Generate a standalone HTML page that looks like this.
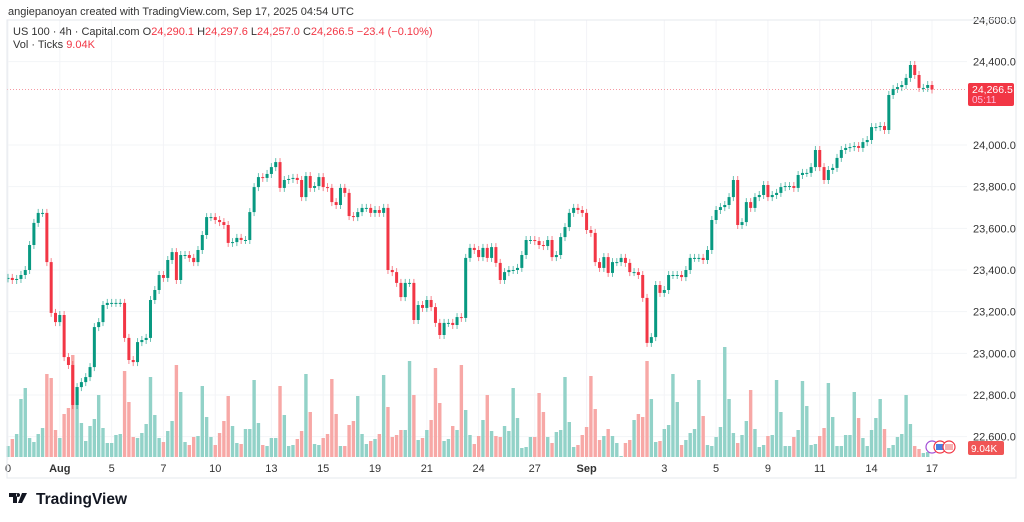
<!DOCTYPE html>
<html><head><meta charset="utf-8"><style>
html,body{margin:0;padding:0;background:#fff;width:1024px;height:522px;overflow:hidden}
svg{display:block;font-family:"Liberation Sans",sans-serif}
</style></head><body>
<svg id="chart" width="1024" height="522" viewBox="0 0 1024 522">
<rect x="0" y="0" width="1024" height="522" fill="#fff"/>
<g id="grid"></g>
<g id="vol"></g>
<line x1="7" x2="967" id="lastline" stroke="#f59aa3" stroke-width="1" stroke-dasharray="1,2"/>
<g id="candles"></g>
<g id="yaxis"></g>
<g id="xaxis"></g>
<rect x="960" y="0" width="64" height="17" fill="#fff"/>
<text x="8" y="15" font-size="11" fill="#333">angiepanoyan created with TradingView.com, Sep 17, 2025 04:54 UTC</text>
<rect x="7" y="20" width="1009" height="458" fill="none" stroke="#e6e8ee" stroke-width="1"/>
<g font-size="11">
<text x="13" y="35" fill="#333">US 100 · 4h · Capital.com <tspan fill="#333">O</tspan><tspan fill="#f23645">24,290.1</tspan> <tspan fill="#333">H</tspan><tspan fill="#f23645">24,297.6</tspan> <tspan fill="#333">L</tspan><tspan fill="#f23645">24,257.0</tspan> <tspan fill="#333">C</tspan><tspan fill="#f23645">24,266.5  −23.4 (−0.10%)</tspan></text>
<text x="13" y="48" fill="#333">Vol · Ticks <tspan fill="#f23645">9.04K</tspan></text>
</g>
<g>
<rect x="968" y="83" width="46" height="23" rx="2" fill="#f23645"/>
<text x="972" y="93" font-size="10.5" fill="#fff">24,266.5</text>
<text x="972" y="103" font-size="10" fill="#fbd">05:11</text>
</g>
<g>
<rect x="968" y="441" width="36" height="14" rx="2" fill="#f05555"/>
<text x="971" y="452" font-size="10" fill="#fff">9.04K</text>
</g>
<g>
<circle cx="932" cy="447" r="6" fill="#fff" stroke="#a34dd6" stroke-width="1.2"/>
<circle cx="940" cy="447" r="6" fill="#fff" stroke="#f23645" stroke-width="1.2"/>
<rect x="936" y="444" width="8" height="6" fill="#4a7fe0"/>
<circle cx="949" cy="447" r="6" fill="#fff" stroke="#f23645" stroke-width="1.2"/>
<rect x="945" y="444" width="8" height="6" fill="#f6b0b0"/>
</g>
<g>
<path d="M9 493h8v10h-4v-6h-4z M18 493a2 2 0 1 0 0.1 0z M22 493h5l-5 10h-4z" fill="#131722"/>
<text x="36" y="504" font-size="15.5" font-weight="bold" fill="#131722">TradingView</text>
</g>
</svg>
<script>
const closes=[23362,23352,23357,23376,23400,23520,23626,23674,23674,23438,
23194,23150,23184,22982,22944,22752,22838,22862,22886,22934,
23126,23150,23232,23242,23242,23242,23242,23074,22968,22958,
23054,23064,23074,23256,23304,23376,23362,23448,23486,23352,
23472,23472,23458,23438,23496,23568,23654,23654,23640,23630,
23616,23530,23534,23554,23544,23544,23678,23798,23846,23842,
23861,23894,23918,23794,23832,23837,23842,23832,23750,23851,
23794,23803,23846,23798,23794,23726,23712,23794,23770,23659,
23654,23678,23698,23698,23674,23688,23674,23698,23400,23390,
23338,23270,23338,23338,23160,23232,23218,23256,23222,23146,
23088,23146,23146,23136,23174,23170,23458,23506,23496,23462,
23506,23458,23510,23434,23352,23390,23400,23400,23410,23472,
23544,23544,23539,23520,23515,23544,23462,23472,23558,23606,
23674,23698,23688,23674,23592,23578,23438,23410,23462,23386,
23438,23438,23458,23434,23390,23390,23376,23266,23050,23078,
23328,23290,23304,23376,23376,23376,23366,23400,23458,23458,
23458,23448,23496,23640,23688,23702,23712,23750,23832,23616,
23630,23726,23698,23750,23760,23808,23750,23760,23770,23798,
23803,23803,23794,23856,23866,23866,23894,23976,23894,23832,
23880,23890,23938,23976,23986,23990,23995,23986,24014,24024,
24086,24086,24091,24072,24240,24269,24278,24288,24322,24384,
24336,24274,24274,24288,24266.5];
const firstOpen=23360;
const volumes=[11,18,23,58,69,19,15,23,29,83,79,27,19,43,49,102,70,34,16,31,38,62,29,14,14,22,23,86,55,20,19,24,33,80,42,19,15,26,36,92,65,15,12,20,21,71,40,20,12,24,36,61,31,14,13,28,28,77,34,12,11,19,19,71,42,11,12,18,26,83,45,13,12,19,23,78,
43,11,11,32,36,61,23,13,16,18,23,82,50,20,22,27,27,96,62,17,19,27,37,89,54,16,18,31,27,92,47,22,13,21,37,62,26,21,20,31,26,69,39,9,10,20,20,64,45,20,14,25,27,80,35,10,12,22,30,81,48,17,21,28,21,14,1,14,17,37,43,40,
96,58,15,16,28,32,83,55,12,17,24,28,77,41,12,11,20,30,110,58,24,14,22,36,67,28,10,12,21,22,77,45,11,11,20,27,76,51,12,13,21,29,74,40,11,11,22,22,65,39,19,11,27,39,58,28,9,12,20,23,62,33,11,8,4,5];
const priceTicks=[22600,22800,23000,23200,23400,23600,23800,24000,24400,24600];
const dateLabels=["0","Aug","5","7","10","13","15","19","21","24","27","Sep","3","5","9","11","14","17"];
const dateIndex=[0,12,24,36,48,61,73,85,97,109,122,134,152,164,176,188,200,214];
const lastPrice=24266.5;

const NS="http://www.w3.org/2000/svg";
const X0=8,X1=932,n=closes.length,step=(X1-X0)/(n-1);
function xs(i){return X0+i*step;}
function ys(p){return 145+(24000-p)*0.208333;}
function vy(v){return 457-v;}
function mk(tag,attrs,parent){const e=document.createElementNS(NS,tag);for(const k in attrs)e.setAttribute(k,attrs[k]);parent.appendChild(e);return e;}
const G=document.getElementById('grid'),C=document.getElementById('candles'),V=document.getElementById('vol'),YA=document.getElementById('yaxis'),XA=document.getElementById('xaxis');
priceTicks.forEach(p=>{const y=ys(p);
 const l=mk('line',{x1:7,x2:967,y1:y,y2:y,stroke:'#f3f4f7','stroke-width':1},G);
 
 
 const t=mk('text',{x:973,y:y+4,'font-size':11,fill:'#333'},YA);
 t.textContent=p.toLocaleString('en-US')+'.0';
 
 
});
dateLabels.forEach((d,k)=>{const x=xs(dateIndex[k]);
 const l=mk('line',{x1:x,x2:x,y1:20,y2:460,stroke:'#f3f4f7','stroke-width':1},G);
 
 
 const t=mk('text',{x:x,y:472,'font-size':11,fill:'#333','text-anchor':'middle','font-weight':(d==='Aug'||d==='Sep')?'bold':'normal'},XA);
 t.textContent=d;
 
 
});
const ly=ys(lastPrice);const LL=document.getElementById('lastline');LL.setAttribute('y1',ly);LL.setAttribute('y2',ly);
for(let i=0;i<n;i++){
 const o=i?closes[i-1]:firstOpen,c=closes[i],up=c>=o,col=up?'#089981':'#f23645';
 const x=xs(i),yt=ys(Math.max(o,c)),yb=ys(Math.min(o,c));
 const w=mk('line',{x1:x,x2:x,y1:yt-4,y2:yb+4,stroke:col,'stroke-width':1,opacity:0.6},C);
 
 
 const b=mk('rect',{x:x-1.5,y:yt,width:3,height:Math.max(1,yb-yt),fill:col},C);
 
 
 if(i<volumes.length){
  const v=volumes[i];
  const r=mk('rect',{x:x-1.7,y:vy(v),width:3.4,height:v,fill:up?'#92d2c8':'#f7a8a6'},V);
  
  
 }
}
</script>
</body></html>
